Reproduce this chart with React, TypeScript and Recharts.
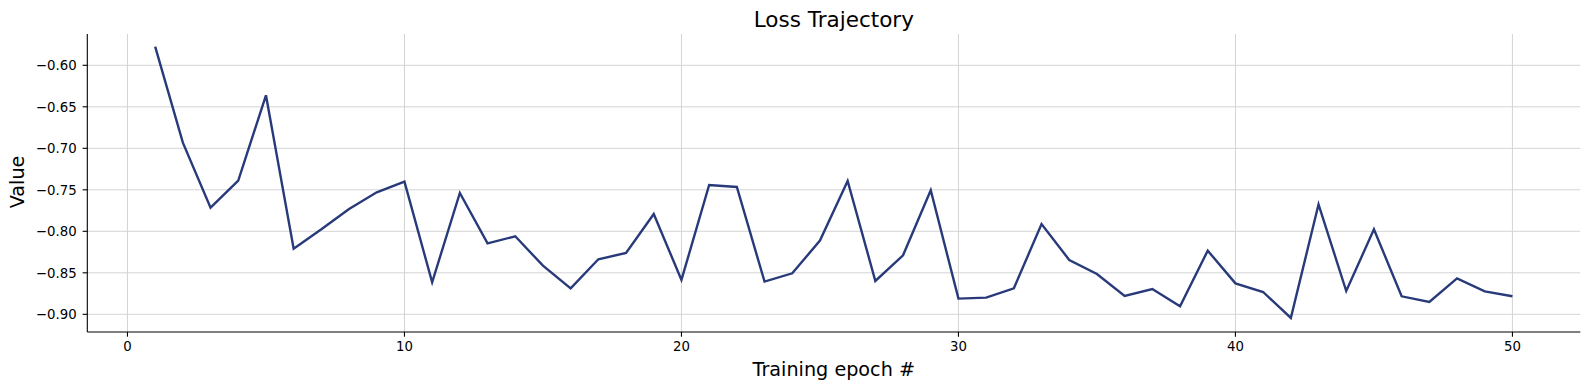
import React from 'react';
import { LineChart, Line, XAxis, YAxis, CartesianGrid } from 'recharts';

const epochs = [
  1, 2, 3, 4, 5, 6, 7, 8, 9, 10,
  11, 12, 13, 14, 15, 16, 17, 18, 19, 20,
  21, 22, 23, 24, 25, 26, 27, 28, 29, 30,
  31, 32, 33, 34, 35, 36, 37, 38, 39, 40,
  41, 42, 43, 44, 45, 46, 47, 48, 49, 50,
];

const lossValues = [
  -0.5775, -0.6932, -0.7715, -0.739, -0.6361, -0.8209, -0.7976, -0.7731, -0.753, -0.7402,
  -0.8614, -0.7538, -0.8145, -0.806, -0.8414, -0.8687, -0.8337, -0.8261, -0.7791, -0.8586,
  -0.7442, -0.7466, -0.8606, -0.8506, -0.8112, -0.7394, -0.8598, -0.8289, -0.7506, -0.8811,
  -0.8799, -0.8687, -0.7912, -0.8345, -0.8514, -0.8779, -0.8695, -0.8904, -0.8233, -0.8627,
  -0.8731, -0.9044, -0.7675, -0.8719, -0.7976, -0.8783, -0.8851, -0.8566, -0.8723, -0.8783,
];

const xTicks = [0, 10, 20, 30, 40, 50];
const yTicks = [-0.9, -0.85, -0.8, -0.75, -0.7, -0.65, -0.6];

const xDomain: [number, number] = [-1.45, 52.45];
const yDomain: [number, number] = [-0.9213, -0.5623];

const data = epochs.map((e, i) => ({ epoch: e, value: lossValues[i] }));

const FONT = '"DejaVu Sans", sans-serif';
const W = 1589;
const H = 390;

const fmtY = (v: number) => v.toFixed(2).replace('-', '\u2212');

const hGen = (props: any) => {
  const o = props?.offset;
  if (!o) return [];
  return yTicks.map(
    (t) => o.top + ((yDomain[1] - t) / (yDomain[1] - yDomain[0])) * o.height
  );
};
const vGen = (props: any) => {
  const o = props?.offset;
  if (!o) return [];
  return xTicks.map(
    (t) => o.left + ((t - xDomain[0]) / (xDomain[1] - xDomain[0])) * o.width
  );
};

export default function App() {
  return (
    <div style={{ position: 'absolute', left: 0, top: 0, width: W, height: H, background: '#fff' }}>
      <LineChart
        width={W}
        height={H}
        data={data}
        margin={{ top: 34, right: 8.7, bottom: 0, left: 0 }}
        style={{ fontFamily: FONT }}
      >
        <CartesianGrid
          stroke="#d4d4d4"
          strokeWidth={1}
          horizontalCoordinatesGenerator={hGen}
          verticalCoordinatesGenerator={vGen}
        />
        <XAxis
          dataKey="epoch"
          type="number"
          domain={xDomain}
          ticks={xTicks}
          allowDataOverflow
          height={58}
          tickSize={4.7}
          tickMargin={5}
          axisLine={{ stroke: '#000', strokeWidth: 1.1 }}
          tickLine={{ stroke: '#000', strokeWidth: 1.1 }}
          tick={{ fill: '#000', fontSize: 13.3, fontFamily: FONT }}
          interval={0}
        />
        <YAxis
          type="number"
          domain={yDomain}
          ticks={yTicks}
          allowDataOverflow
          width={87.3}
          tickSize={4.7}
          tickMargin={6}
          tickFormatter={fmtY}
          axisLine={{ stroke: '#000', strokeWidth: 1.1 }}
          tickLine={{ stroke: '#000', strokeWidth: 1.1 }}
          tick={{ fill: '#000', fontSize: 13.3, fontFamily: FONT }}
          interval={0}
        />
        <Line
          type="linear"
          dataKey="value"
          stroke="#283a7a"
          strokeWidth={2.4}
          dot={false}
          activeDot={false}
          isAnimationActive={false}
        />
      </LineChart>
      <svg
        width={W}
        height={H}
        style={{ position: 'absolute', left: 0, top: 0, pointerEvents: 'none' }}
      >
        <text x={833.8} y={26.7} textAnchor="middle" fontSize={21.5} fontFamily={FONT} fill="#000">
          Loss Trajectory
        </text>
        <text x={833.8} y={376} textAnchor="middle" fontSize={19.2} fontFamily={FONT} fill="#000">
          Training epoch #
        </text>
        <text
          x={24}
          y={182}
          textAnchor="middle"
          fontSize={19.2}
          fontFamily={FONT}
          fill="#000"
          transform="rotate(-90, 24, 182)"
        >
          Value
        </text>
      </svg>
    </div>
  );
}
